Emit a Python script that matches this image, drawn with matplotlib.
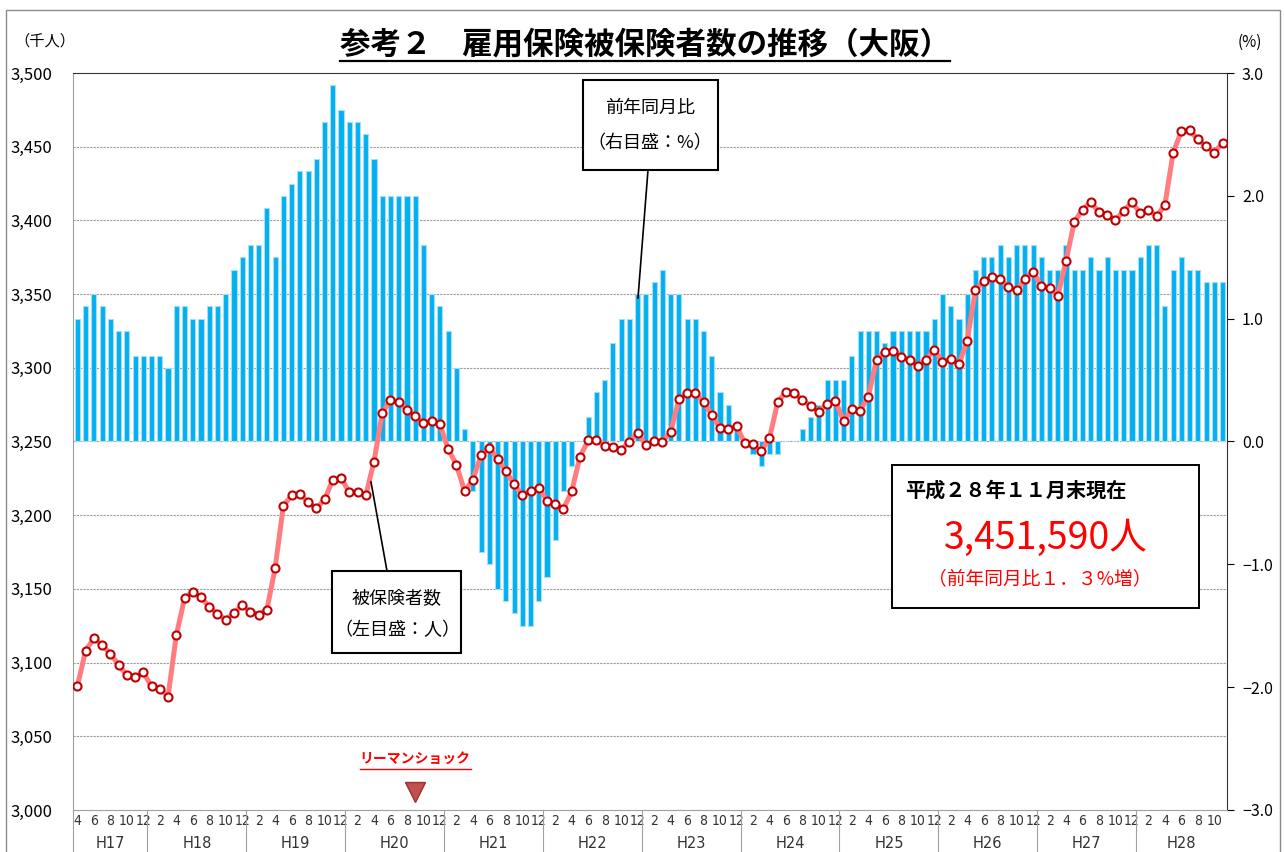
import matplotlib
matplotlib.use("Agg")
import matplotlib.pyplot as plt
from matplotlib.patches import Rectangle
from matplotlib.lines import Line2D
import matplotlib.transforms as mtransforms

plt.rcParams['font.family'] = ['Noto Sans CJK JP', 'DejaVu Sans']

# ---------------- data ----------------
years = ['H17', 'H18', 'H19', 'H20', 'H21', 'H22', 'H23', 'H24', 'H25', 'H26', 'H27', 'H28']
first_month = 4      # H17 starts in April
last_month = 11      # H28 ends in November

# insured persons (thousand, left axis)
insured = [
    3084.1, 3108.2, 3116.5, 3111.8, 3106.0, 3098.5, 3091.3, 3090.2, 3093.3,
    3083.8, 3082.4, 3076.9, 3118.5, 3143.6, 3148.1, 3144.2, 3137.9, 3133.1, 3129.2, 3133.4, 3139.0, 3134.5,
    3132.6, 3135.9, 3164.2, 3206.5, 3213.4, 3214.3, 3208.8, 3204.6, 3210.7, 3224.0, 3225.1, 3215.7,
    3215.7, 3213.4, 3236.4, 3269.3, 3278.2, 3276.6, 3271.6, 3267.2, 3262.7, 3263.8, 3261.6, 3245.0,
    3234.2, 3216.2, 3224.2, 3240.6, 3245.6, 3238.3, 3230.0, 3220.9, 3214.0, 3216.2, 3218.5, 3209.8,
    3207.9, 3204.3, 3216.2, 3239.7, 3250.8, 3250.8, 3247.2, 3246.1, 3244.4, 3250.0, 3255.8, 3247.5,
    3250.3, 3250.0, 3256.3, 3278.5, 3282.7, 3283.2, 3276.6, 3268.3, 3258.9, 3258.3, 3260.5, 3248.9,
    3248.1, 3243.4, 3252.2, 3276.6, 3283.8, 3283.2, 3277.9, 3274.3, 3270.2, 3275.7, 3277.6, 3263.8,
    3272.1, 3271.0, 3280.5, 3305.6, 3310.9, 3311.7, 3307.6, 3305.4, 3301.2, 3305.6, 3312.3, 3304.0,
    3306.2, 3302.3, 3318.4, 3352.7, 3358.8, 3361.6, 3360.2, 3354.7, 3352.7, 3360.2, 3365.2, 3355.5,
    3354.1, 3348.9, 3372.7, 3399.0, 3407.3, 3412.3, 3405.6, 3404.0, 3400.1, 3406.5, 3412.3, 3405.0,
    3407.3, 3402.9, 3410.6, 3446.0, 3460.4, 3461.0, 3454.9, 3450.2, 3446.0, 3452.6,
]

# year-on-year change (%, right axis)
yoy = [
    1.0, 1.1, 1.2, 1.1, 1.0, 0.9, 0.9, 0.7, 0.7,
    0.7, 0.7, 0.6, 1.1, 1.1, 1.0, 1.0, 1.1, 1.1, 1.2, 1.4, 1.5, 1.6,
    1.6, 1.9, 1.5, 2.0, 2.1, 2.2, 2.2, 2.3, 2.6, 2.9, 2.7, 2.6,
    2.6, 2.5, 2.3, 2.0, 2.0, 2.0, 2.0, 2.0, 1.6, 1.2, 1.1, 0.9,
    0.6, 0.1, -0.4, -0.9, -1.0, -1.2, -1.3, -1.4, -1.5, -1.5, -1.3, -1.1,
    -0.8, -0.4, -0.2, 0.0, 0.2, 0.4, 0.5, 0.8, 1.0, 1.0, 1.2, 1.2,
    1.3, 1.4, 1.2, 1.2, 1.0, 1.0, 0.9, 0.7, 0.4, 0.3, 0.1, 0.0,
    -0.1, -0.2, -0.1, -0.1, 0.0, 0.0, 0.1, 0.2, 0.3, 0.5, 0.5, 0.5,
    0.7, 0.9, 0.9, 0.9, 0.8, 0.9, 0.9, 0.9, 0.9, 0.9, 1.0, 1.2,
    1.1, 1.0, 1.2, 1.4, 1.5, 1.5, 1.6, 1.5, 1.6, 1.6, 1.6, 1.5,
    1.4, 1.4, 1.6, 1.4, 1.4, 1.5, 1.4, 1.5, 1.4, 1.4, 1.4, 1.5,
    1.6, 1.6, 1.1, 1.4, 1.5, 1.4, 1.4, 1.3, 1.3, 1.3,
]

left_ticks = [3000, 3050, 3100, 3150, 3200, 3250, 3300, 3350, 3400, 3450, 3500]
right_ticks = [-3, -2, -1, 0, 1, 2, 3]

title = '参考２　雇用保険被保険者数の推移（大阪）'
lehman_label = 'リーマンショック'
lehman_idx = 41
info_line1 = '平成２８年１１月末現在'
info_line2 = '3,451,590人'
info_line3 = '（前年同月比１．３%増）'

# ---------------- categories ----------------
months = []
year_of = []
for yi, y in enumerate(years):
    start = first_month if yi == 0 else 1
    end = last_month if yi == len(years) - 1 else 12
    for m in range(start, end + 1):
        months.append(m)
        year_of.append(yi)
n = len(months)
x = list(range(n))

W, H = 1285, 852
fig = plt.figure(figsize=(W / 100, H / 100), dpi=100)

def fx(px):
    return px / W

def fy(py):
    return 1 - py / H

ax_l, ax_r, ax_t, ax_b = 73.3, 1226.7, 73, 810
ax = fig.add_axes([fx(ax_l), fy(ax_b), fx(ax_r) - fx(ax_l), fy(ax_t) - fy(ax_b)])
axl = ax.twinx()

# bars (right scale)
ax.set_ylim(-3, 3)
ax.set_xlim(-0.5, n - 0.5)
for v in left_ticks[1:-1]:
    ax.axhline((v - 3250) * 6 / 500, color='#9a9a9a', lw=0.8, ls=(0, (2, 1)), zorder=0)
ax.bar(x, yoy, width=0.62, color='#00B0F0', edgecolor='#A8DDF3', linewidth=0.8, zorder=2)

# line (left scale)
axl.set_ylim(3000, 3500)
axl.plot(x, insured, color='#FF7C80', lw=3.6, solid_capstyle='round', zorder=3)
axl.plot(x, insured, ls='none', marker='o', ms=5.8, mfc='white', mec='#C00000', mew=1.5, zorder=4)

# axes styling
ax.yaxis.tick_right()
ax.set_yticks(right_ticks)
ax.set_yticklabels(['−3.0', '−2.0', '−1.0', '0.0', '1.0', '2.0', '3.0'])
ax.tick_params(axis='y', direction='out', length=5, width=0.8, colors='black', pad=6, labelsize=11.5)
axl.yaxis.tick_left()
axl.set_yticks(left_ticks)
axl.set_yticklabels([f'{v:,}' for v in left_ticks])
axl.tick_params(axis='y', length=0, pad=15, labelsize=12)

for a in (ax, axl):
    a.spines['left'].set_color('#a0a0a0')
    a.spines['bottom'].set_color('#a0a0a0')
    a.spines['right'].set_color('#333333')
    a.spines['top'].set_color('#333333')
axl.spines['left'].set_visible(False)
axl.spines['bottom'].set_visible(False)
axl.spines['right'].set_visible(False)
axl.spines['top'].set_visible(False)

# month tick labels
tick_pos = [i for i in x if months[i] % 2 == 0]
ax.set_xticks(tick_pos)
ax.set_xticklabels([str(months[i]) for i in tick_pos], fontsize=10, color='#333333',
                   family=['DejaVu Sans'])
ax.tick_params(axis='x', length=0, pad=3)
for lab in ax.get_xticklabels():
    lab.set_fontstretch('condensed')

# year labels and separators
trans = mtransforms.blended_transform_factory(ax.transData, fig.transFigure)
bounds = []
for yi, y in enumerate(years):
    idxs = [i for i in x if year_of[i] == yi]
    lo, hi = idxs[0] - 0.5, idxs[-1] + 0.5
    bounds.append(lo)
    fig.text((lo + hi) / 2, fy(843), y, transform=trans, ha='center', va='center',
             fontsize=10.5, color='#333333', family=['DejaVu Sans'])
for b in bounds:
    fig.add_artist(Line2D([b, b], [fy(ax_b), 0], transform=trans, color='#a0a0a0', lw=0.8))

# figure frame
fig.add_artist(Rectangle((fx(6), -0.01), fx(1280) - fx(6), fy(10) + 0.01, transform=fig.transFigure,
                         fill=False, edgecolor='#8a8a8a', lw=1))

# title with underline
t = fig.text(fx(645), fy(44), title, ha='center', va='center', fontsize=22, fontweight='bold')
fig.canvas.draw()
bb = t.get_window_extent()
fig.add_artist(Line2D([bb.x0 / W, bb.x1 / W], [fy(61), fy(61)], transform=fig.transFigure,
                      color='black', lw=1.6))

# unit labels
fig.text(fx(45), fy(41), '（千人）', ha='center', va='center', fontsize=11)
fig.text(fx(1250), fy(42), '(%)', ha='center', va='center', fontsize=11)

# annotation boxes
def box(x0, y0, x1, y1, lw=1.5):
    fig.add_artist(Rectangle((fx(x0), fy(y1)), fx(x1) - fx(x0), fy(y0) - fy(y1),
                             transform=fig.transFigure, facecolor='white', edgecolor='black', lw=lw,
                             zorder=5))

def pointer(x0, y0, x1, y1):
    fig.add_artist(Line2D([fx(x0), fx(x1)], [fy(y0), fy(y1)], transform=fig.transFigure,
                          color='black', lw=1.2, zorder=5))

box(583, 80, 718, 170)
pointer(648, 170, 638, 298)
fig.text(fx(650), fy(108), '前年同月比', ha='center', va='center', fontsize=13, zorder=6)
fig.text(fx(650), fy(143), '（右目盛：%）', ha='center', va='center', fontsize=13, zorder=6)

box(332, 571, 461, 653)
pointer(387, 571, 371, 482)
fig.text(fx(397), fy(598), '被保険者数', ha='center', va='center', fontsize=13, zorder=6)
fig.text(fx(397), fy(630), '（左目盛：人）', ha='center', va='center', fontsize=13, zorder=6)

# info box
box(892, 465, 1199, 608, lw=1.4)
fig.text(fx(905), fy(490), info_line1, ha='left', va='center', fontsize=14.5, fontweight='bold', zorder=6)
fig.text(fx(1046), fy(538), info_line2, ha='center', va='center', fontsize=27, color='#FF0000', zorder=6)
fig.text(fx(1040), fy(579), info_line3, ha='center', va='center', fontsize=13.5, color='#FF0000', zorder=6)

# Lehman shock marker
lt = fig.text(lehman_idx, fy(760), lehman_label, transform=trans, ha='center', va='center',
              fontsize=10, fontweight='bold', color='#FF0000')
fig.canvas.draw()
lb = lt.get_window_extent()
fig.add_artist(Line2D([lb.x0 / W, lb.x1 / W], [fy(769), fy(769)], transform=fig.transFigure,
                      color='#FF0000', lw=1))
fig.add_artist(Line2D([lehman_idx], [fy(792)], transform=trans, marker='v', ms=14,
                      color='#C0504D', mec='#A03030', ls='none'))

fig.savefig('out.png', dpi=100)
